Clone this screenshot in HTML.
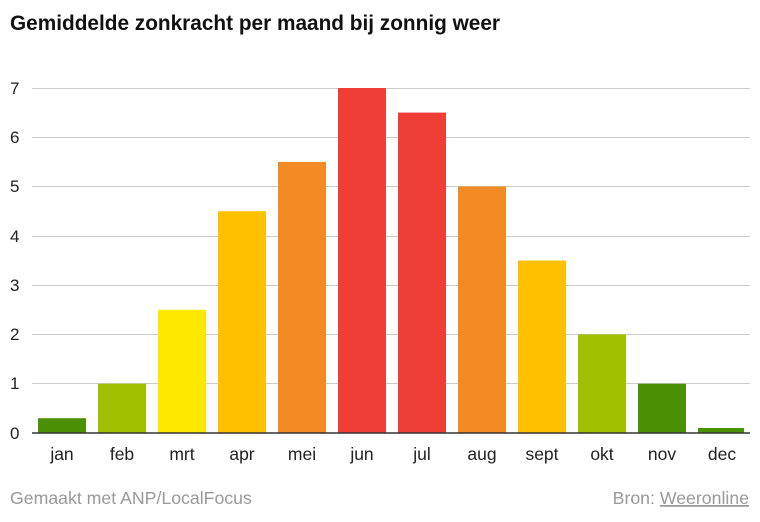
<!DOCTYPE html>
<html><head><meta charset="utf-8"><style>
body{margin:0;width:760px;height:517px;background:#fff;overflow:hidden;font-family:"Liberation Sans",sans-serif}
</style></head><body>
<svg width="760" height="517" xmlns="http://www.w3.org/2000/svg" font-family="Liberation Sans, sans-serif">
<text x="10" y="30" font-size="20.8" font-weight="bold" fill="#111">Gemiddelde zonkracht per maand bij zonnig weer</text>
<g stroke="#ccc" stroke-width="1">
<line x1="32" x2="750" y1="88.5" y2="88.5"/><line x1="32" x2="750" y1="137.5" y2="137.5"/>
<line x1="32" x2="750" y1="186.5" y2="186.5"/><line x1="32" x2="750" y1="236.5" y2="236.5"/>
<line x1="32" x2="750" y1="285.5" y2="285.5"/><line x1="32" x2="750" y1="334.5" y2="334.5"/>
<line x1="32" x2="750" y1="383.5" y2="383.5"/>
</g>
<g font-size="17" fill="#222">
<text x="10" y="94">7</text><text x="10" y="143">6</text><text x="10" y="192">5</text>
<text x="10" y="242">4</text><text x="10" y="291">3</text><text x="10" y="340">2</text>
<text x="10" y="389">1</text><text x="10" y="439">0</text>
</g>
<g>
<rect x="38" y="418.2" width="48" height="14.8" fill="#4a9106"/>
<rect x="98" y="383.7" width="48" height="49.3" fill="#a0c000"/>
<rect x="158" y="309.8" width="48" height="123.2" fill="#ffe800"/>
<rect x="218" y="211.2" width="48" height="221.8" fill="#ffc000"/>
<rect x="278" y="161.9" width="48" height="271.1" fill="#f28b24"/>
<rect x="338" y="88" width="48" height="345" fill="#ef3e38"/>
<rect x="398" y="112.6" width="48" height="320.4" fill="#ef3e38"/>
<rect x="458" y="186.5" width="48" height="246.5" fill="#f28b24"/>
<rect x="518" y="260.5" width="48" height="172.5" fill="#ffc000"/>
<rect x="578" y="334.4" width="48" height="98.6" fill="#a0c000"/>
<rect x="638" y="383.7" width="48" height="49.3" fill="#4a9106"/>
<rect x="698" y="428" width="46" height="5" fill="#4a9106"/>
</g>
<line x1="32" x2="750" y1="433" y2="433" stroke="#333" stroke-width="1.5"/>
<g font-size="17.5" fill="#222" text-anchor="middle">
<text x="62" y="460">jan</text><text x="122" y="460">feb</text><text x="182" y="460">mrt</text>
<text x="242" y="460">apr</text><text x="302" y="460">mei</text><text x="362" y="460">jun</text>
<text x="422" y="460">jul</text><text x="482" y="460">aug</text><text x="542" y="460">sept</text>
<text x="602" y="460">okt</text><text x="662" y="460">nov</text><text x="722" y="460">dec</text>
</g>
<text x="10" y="504" font-size="17.7" fill="#999">Gemaakt met ANP/LocalFocus</text>
<text x="749" y="504" font-size="17.7" fill="#999" text-anchor="end">Bron: <tspan text-decoration="underline">Weeronline</tspan></text>
</svg>
</body></html>
